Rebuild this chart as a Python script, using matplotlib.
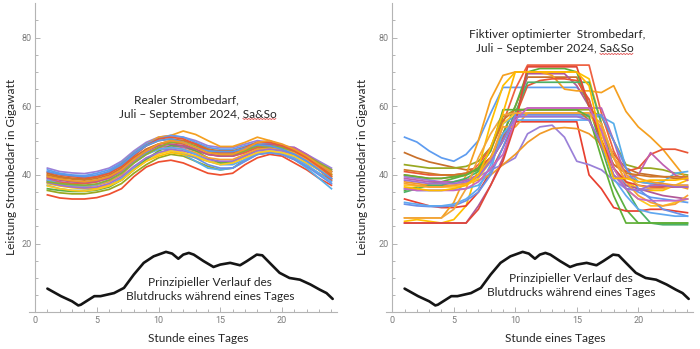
import matplotlib
matplotlib.use("Agg")
import matplotlib.pyplot as plt
from matplotlib.lines import Line2D
from matplotlib.transforms import IdentityTransform
import numpy as np

hours = list(range(1, 25))

# ---------------- data: real demand (left) ----------------
real_lines = [
    [42,41,40.6,40.4,41,42,44,47,49.5,51,51.5,51,50,48.5,48,48,49,50,49.5,48.5,48,46,44,42],
    [34.2,33.3,33,33,33.4,34.4,36,39.5,42.3,43.8,44.3,43.5,42,40.5,40,40.5,43,45,46,45.5,43.5,41.5,39,37],
    [40,39.5,39,38.8,39.5,41,43.5,46.5,49,51,51.5,52.8,51.8,50,48.3,48.3,49.5,51,50,48.5,46.5,44.5,42.5,40.5],
    [35.5,34.8,34.5,34.5,35,35.8,37.5,40.5,43,45,46,45.5,44,42.5,41.5,42,44.5,46,46.5,46,44.5,42.5,40.5,38.5],
    [41.5,40.5,40,39.8,40.5,41.5,43.5,46.5,49,50.5,51.5,51,49.5,48,47.5,47.5,48.5,49.5,49,48.5,47,45,43,41],
    [37,36,35.5,35.5,36,37,39,42,44.5,46.5,47,46,44,42,41.5,42,44,46,46.5,46,44.5,42,39,36],
    [37.5,36.8,36.3,36,36.2,37,38.5,41.5,44,45.5,46.5,46,45,44,43.5,44,45.5,47,47.5,47,45.5,43.5,41.5,39.5],
    [40.5,39.5,39,38.8,39.5,40.5,43,46,48.5,50,50.5,50,49,47.5,47,47,48,49,48.5,47.5,46,44,41.5,39],
    [39,38,37.5,37.5,38,39,41,44,46.5,48,48.5,48,47,46,45.5,45.5,46.5,48,48,48,48,46,43.5,41.5],
    [38.5,37.8,37.5,37.5,38,39.5,42,45,47.5,49,49.5,49,47.5,46,45.5,45.5,46.5,48,48,47.5,46,44,41.5,38.5],
    [36,35.5,35.2,35.2,35.6,36.5,38.5,41.5,44.5,47,48.5,48.5,47,45,43.5,43.5,45.5,47.5,48,47.5,46,44,42,40],
    [39.5,38.8,38.2,38,38.5,39.5,41.5,44.5,46.5,47.5,47.5,46.5,45,43,42,42,44,46,46.5,46,44.5,42.5,40,37.5],
    [38,37.2,36.8,36.5,37,38,40,43.5,46,47.5,48,47.5,46.5,45,44.5,44.5,46,47.5,47.8,47.5,46.5,44.5,42,40],
    [37.8,37,36.5,36.2,36.5,37.5,39.5,42.5,45,46.5,47.5,47,46,44.5,44,44,45.5,47,47.5,47,46,44,41.5,39],
    [40,39.2,38.8,38.5,39,40,42,45,47.5,49,50,50,49,47.5,46.5,46.5,47.5,48.5,48.5,48,47,45,42.5,40],
    [38.5,37.5,37,36.8,37.2,38.5,40.5,43.5,46,47.5,48,47.5,46,44,43,43,44.5,46.5,47,46.5,45,43,40.5,38],
    [36.8,36,35.5,35.3,35.8,36.8,38.5,41.5,44,46,47,46.5,45.5,44,43,43.5,45,46.5,47,46.5,45.5,43.5,41.5,39.5],
    [39.2,38.5,38,37.8,38.2,39.2,41.5,44.5,47,48.5,49,48.5,47.5,46,45.5,45.5,47,48.5,49,48.5,47.5,45.5,43,41],
    [38,37.5,37.2,37,37.4,38.5,40.5,43.5,46,48,49.5,49.5,48.5,47,46,46,47,48.5,48.5,48,47,45.5,43.5,41.5],
    [40.8,40,39.5,39.2,39.5,40.5,42.5,45.5,48.5,50.5,51,50.5,49,47,46.5,46.5,48,49.5,49.5,48.5,47,45,42.5,39.5],
    [41,40.2,39.8,39.5,40,41,43,46,48.5,50,50.5,49.5,48,47,46.8,46.8,47.8,48.8,48.5,47.5,46,44,41.5,39],
    [39.5,38.8,38.3,38,38.5,39.5,41.5,44.5,47,49,50,49.5,48,46.5,46,46,47.5,49.5,50,49,47.5,45.5,43,41],
]
real_colors = ['#9A80D8', '#EE5030', '#F5A020', '#98A820', '#5E9CF0', '#57AEEA', '#FFC000',
               '#C8702A', '#C060B0', '#EE6040', '#5CB040', '#6A90E8', '#F8A030', '#A070D0',
               '#D07828', '#60A8F0', '#FFC820', '#B85890', '#8CB030', '#E85A38', '#5A98E8', '#F09A28']

# ---------------- data: fictive optimised demand (right) ----------------
opt_lines = [
    [51,49.6,47,45,44,46,50,58,65.5,65.5,65.5,65.5,65.5,65.5,65.5,62,50,42,37,35,33.5,33,32.5,32],
    [46.5,45,43.8,43,42.2,41.5,42,45,52,60,68.5,68.5,68.5,68.5,68.5,60,52,46,42,40.5,40,39.5,39,39],
    [43,42.5,42,42,42,42.5,44,48,57,59,59,59,59,59,59,59,57,50,43,42,42,41.5,40.5,40],
    [40,39.5,39,39,39.5,40,43,48,55,65,72,72,72,72,72,72,58,47,40,38,37.5,37,36.5,36.5],
    [26.5,27,26.5,26,27,31,42,55,66,70,70,70,70,70,70,68,55,45,38,36,35.5,35.5,37,38.5],
    [26,26,26,26,26,26,31,37,45,56,69.5,69.5,69.5,69.5,66,60,50,40,37,36,35,34,33.5,33],
    [35.5,36.5,37.5,38,39,40,41.5,45,52,60,70,71,71,71,70,60,48,37,30,26,26,26,26,26],
    [33,32,31,30.5,30.5,31,35,41,48,55.5,55.5,55.5,55.5,55.5,55.5,40,36,30.5,29.5,29.5,30,30,29.5,29],
    [27.5,27.5,27.5,27.5,32,40,50,62,69,70,70,70,69,65,64.5,64.5,64,66,58.5,54,51,47.5,43,38.5],
    [36,35.5,35.5,35.5,35.8,36,37,41,55,57,57,57,57,57,57,57,57,55,42,38,37.5,38,40.5,41],
    [39.5,39,38.5,38,38,38.5,39.5,41.5,43,45,52,54,54.5,51,44,43,41.5,38.5,36,35.5,36,36.5,37,37],
    [38,37.5,37,37,37,37.5,38.5,40,43,46,49.5,52,53.5,53.8,53.5,52,49,45,41,39,38,37.5,37,36],
    [41,40.5,40,40,40,40.5,42,45,51,57,66,67.5,68,68,67.5,62,50,43,41,42,46,47.5,47.5,46.5],
    [39,38.5,38,38,38,38.5,40,44,50,58,59.5,59.5,59.5,59.5,59.5,59.5,59.5,50,39,40,46.5,43,40,38.5],
    [35,36,37,37,38,39,41,44,50,58,67,67,67,67,67,67,55,42,36,30,26,25.5,25.5,25.5],
    [37,36.8,36.5,36.5,36.5,37,39,44,55,58,58,58,58,58,58,58,52,42,36,33,31,31,32,33],
    [31.5,31,30.8,30.8,31,32.5,35,40,48,57.5,57.5,57.5,57.5,57.5,57.5,57.5,57.5,50,42,36,33,30,29,28],
    [41.5,41,40.5,40,40,40.5,42,47,56,59,59,59,59,59,59,56,48,43,40.5,40,39.5,39.5,39.5,39.5],
    [37.5,37,36.5,36.5,37,37.5,40,45,54,54,58,58,58,58,58,58,54,45,38,34,32,31,31.5,34],
    [32,31.5,31,31,31.5,33,36,43,52,56,56,56,56,56,56,56,49,39,34,30,29,28.5,28,28],
    [26,26,26,26,26,26,30,37,44,55,71.5,71.5,71.5,71.5,71.5,60,50,42,38,37,36.5,36.5,36.5,36.5],
    [27.5,27.5,27.5,27.5,30,36,45,52,57.5,58,58,58,58,58,58,58,55,45,40,37,36,36,37,37],
    [40,39.5,39,39,39.5,40,42,47,59,59,59,59,59,59,59,57,45,34,26,26,26,26,26,26],
    [36,35.5,35.5,35.5,35.5,36,38,42,46,56,59.5,59.5,59.5,59.5,59.5,59.5,53,42,36,33,32.5,32.5,32.5,33],
    [38.5,38,37.5,37.5,37.5,38,39.5,44,50,57,57,57,57,57,57,56,49,40,36,35.5,37,37,36.5,36.5],
    [36.5,36,35.5,35.5,36,37,40,48,58,70,70,70,70,70,70,66,50,39,39,38,38.5,38.5,38.5,39],
]
opt_colors = ['#5E9CF0', '#C8702A', '#98A820', '#EE6040', '#FFC000', '#B05898', '#5CB040',
              '#E84030', '#F5A020', '#57AEEA', '#9A80D8', '#F09A28', '#E95536', '#C060B0',
              '#4CB068', '#FFC820', '#6A90E8', '#D07828', '#F8A030', '#60A8F0', '#E04838',
              '#F2A63A', '#60B038', '#C868C0', '#A070D0', '#FFB800']

# ---------------- data: blood pressure sketch ----------------
bp_hours = [1.0,2.1,3.0,3.5,3.7,4.8,5.3,6.4,7.2,8.0,8.8,9.6,10.6,11.1,11.6,12.0,12.45,12.85,
            13.65,14.45,15.0,15.8,16.6,17.15,17.95,18.4,19.0,19.8,20.6,21.45,22.3,23.05,23.6,24.1]
bp_values = [6.9,4.7,3.2,2.0,2.2,4.7,4.7,5.6,7.1,11.0,14.4,16.3,17.6,17.1,15.6,16.8,17.3,16.8,
             14.9,13.2,13.9,14.4,13.7,14.9,16.8,16.6,14.4,11.5,10.0,9.5,8.1,6.6,5.6,3.9]

W, H = 700, 349
fig = plt.figure(figsize=(W/100, H/100), dpi=100)
plt.rcParams['font.family'] = ['Lato', 'DejaVu Sans']

AX_GREY = '#B4B4B4'
LBL_GREY = '#7A7A7A'


def fx(px):
    return px / W


def fy(py):
    return 1 - py / H


def setup(ax, xl):
    ax.set_xlim(*xl)
    ax.set_ylim(0, 90)
    for s in ['top', 'right']:
        ax.spines[s].set_visible(False)
    ax.spines['left'].set_position(('data', 0))
    ax.spines['left'].set_color(AX_GREY)
    ax.spines['bottom'].set_color(AX_GREY)
    ax.spines['left'].set_linewidth(0.8)
    ax.spines['bottom'].set_linewidth(0.8)
    ax.set_xticks([0, 5, 10, 15, 20])
    ax.set_xticks(np.arange(1, 25), minor=True)
    ax.set_yticks([20, 40, 60, 80])
    ax.set_yticks(np.arange(5, 90, 5), minor=True)
    ax.tick_params(which='both', direction='in', color=AX_GREY, width=0.7,
                   labelcolor=LBL_GREY, labelsize=6.5)
    ax.tick_params(which='major', length=3.5, pad=2.5)
    ax.tick_params(which='minor', length=2)
    for lab in ax.get_xticklabels() + ax.get_yticklabels():
        lab.set_family(['Roboto', 'DejaVu Sans'])
    ax.patch.set_alpha(0)


axL = fig.add_axes([fx(29), fy(312.3), fx(337 - 29), (312.3 - 3.3) / H])
axR = fig.add_axes([fx(386), fy(312.3), fx(693 - 386), (312.3 - 3.3) / H])
setup(axL, (-0.49, 24.45))
setup(axR, (-0.51, 24.45))

for vals, c in zip(real_lines, real_colors):
    axL.plot(hours, vals, color=c, lw=1.25, solid_joinstyle='round')
for vals, c in zip(opt_lines, opt_colors):
    axR.plot(hours, vals, color=c, lw=1.25, solid_joinstyle='round')
for ax in (axL, axR):
    ax.plot(bp_hours, bp_values, color='#151515', lw=1.9, solid_capstyle='round',
            solid_joinstyle='round')

FS = 8.6
TXT = '#262626'


def ftext(x, y, s, **kw):
    return fig.text(fx(x), fy(y), s, ha='center', va='center', fontsize=FS, color=TXT, **kw)


ftext(186, 100, 'Realer Strombedarf,')
t1 = ftext(198, 114, 'Juli – September 2024, Sa&So')
ftext(210, 283, 'Prinzipieller Verlauf des')
ftext(210, 296, 'Blutdrucks während eines Tages')
ftext(198, 338, 'Stunde eines Tages')
ftext(12, 167, 'Leistung Strombedarf in Gigawatt', rotation=90)

ftext(557, 34, 'Fiktiver optimierter  Strombedarf,')
t2 = ftext(555, 49, 'Juli – September 2024, Sa&So')
ftext(571, 278, 'Prinzipieller Verlauf des')
ftext(571, 293, 'Blutdrucks während eines Tages')
ftext(555, 338, 'Stunde eines Tages')
ftext(363, 167, 'Leistung Strombedarf in Gigawatt', rotation=90)

# red spell-check squiggle under "Sa&So"
fig.canvas.draw()
r = fig.canvas.get_renderer()
tmp = fig.text(0, 0, 'Sa&So', fontsize=FS)
wso = tmp.get_window_extent(r).width
tmp.remove()
for t in (t1, t2):
    bb = t.get_window_extent(r)
    x1 = bb.x1
    x0 = x1 - wso
    yb = bb.y0 + 0.5
    xs = np.arange(x0, x1 + 0.1, 1.5)
    ys = yb + np.where(np.arange(len(xs)) % 2 == 0, 0.6, -0.6)
    fig.add_artist(Line2D(xs, ys, color='#E05050', lw=0.6, transform=IdentityTransform()))

fig.savefig('out.png', dpi=100)
